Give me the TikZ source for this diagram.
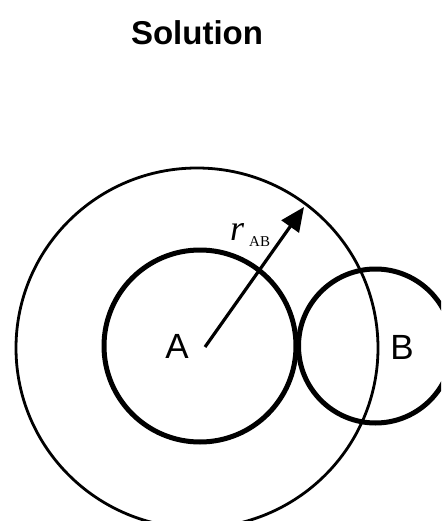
\documentclass[tikz,border=0pt]{standalone}
\usepackage{fontspec}
\setmainfont{Liberation Sans}
\newfontfamily\timesfont{Liberation Serif}
\usetikzlibrary{arrows.meta}
\tikzset{
  thickcirc/.style={draw=black, line width=5pt},
  thincirc/.style={draw=black, line width=2.8pt},
  radiusarrow/.style={draw=black, line width=3.2pt, -{Triangle[length=24pt,width=21pt]}},
  letter/.style={font=\fontsize{35}{40}\selectfont, inner sep=0pt}
}
\begin{document}
\begin{tikzpicture}[x=1pt,y=-1pt]
\useasboundingbox (0,0) rectangle (441,521);
\fill[white] (0,0) rectangle (441,521);
\begin{scope}
\clip (0,0) rectangle (441,521);
\node[inner sep=0pt, font=\bfseries\fontsize{33}{38}\selectfont] (title) at (197,33) {Solution};
\draw[thincirc] (197,348) ellipse [x radius=181, y radius=180];
\draw[thickcirc] (200,346) circle [radius=96];
\draw[thickcirc] (375.5,346) circle [radius=77];
\coordinate (tail) at (205,347);
\coordinate (tip) at (304,207);
\draw[radiusarrow] (tail) -- (tip);
\node[letter] (A) at (177,346) {A};
\node[letter] (B) at (402,347) {B};
\node[inner sep=0pt, anchor=base west] (r) at (230,240) {\timesfont\fontsize{36}{40}\selectfont\itshape r};
\node[inner sep=0pt, anchor=base west] (sub) at (249,246) {\timesfont\fontsize{15}{17}\selectfont AB};
\end{scope}
\end{tikzpicture}
\end{document}
